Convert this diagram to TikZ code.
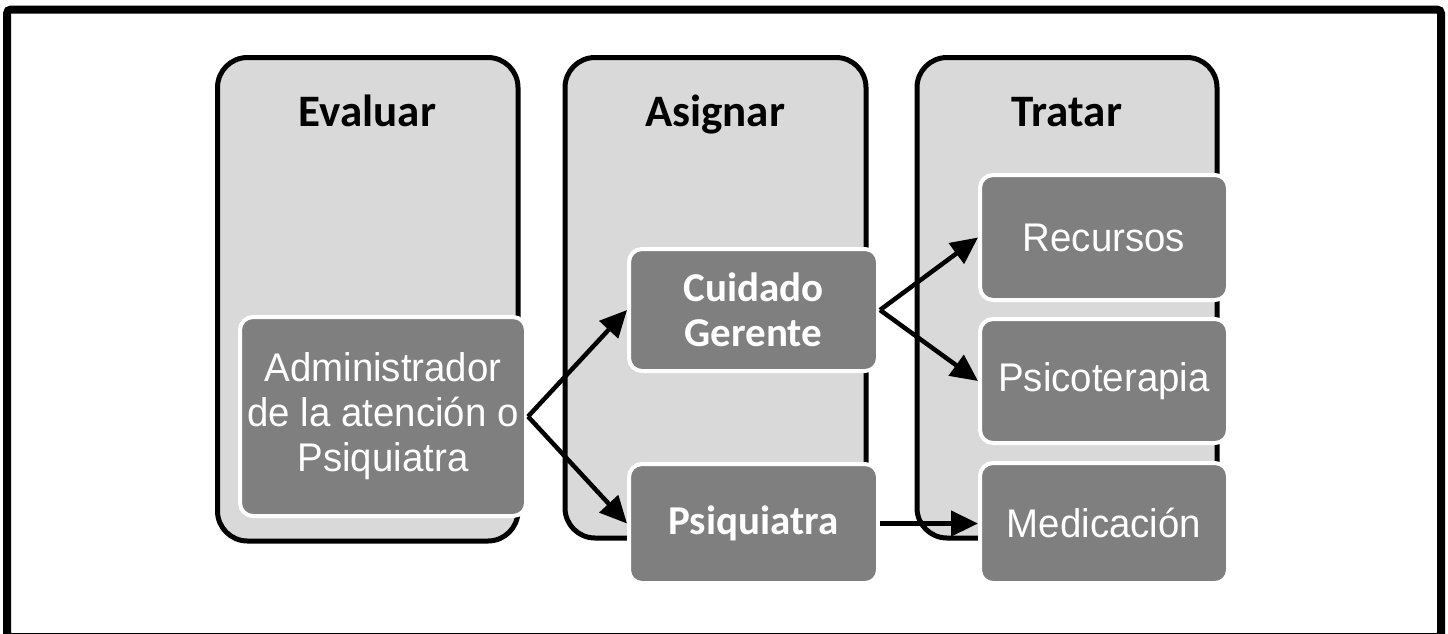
\documentclass[tikz,border=0pt]{standalone}
\usepackage{fontspec}
\setmainfont{Carlito}
\newfontfamily\narrowfont[FakeStretch=0.96]{Liberation Sans}
\usetikzlibrary{arrows.meta}
\definecolor{colfill}{HTML}{D9D9D9}
\definecolor{boxfill}{HTML}{7F7F7F}
\tikzset{
  colbox/.style={draw=black, line width=5pt, fill=colfill, rounded corners=30pt,
    inner sep=0pt, minimum width=300pt},
  title/.style={anchor=base, font=\bfseries\fontsize{45}{54}\selectfont},
  stepbox/.style={draw=white, line width=4pt, fill=boxfill, rounded corners=13pt,
    inner sep=0pt, text=white, align=center},
  narrowtxt/.style={font=\narrowfont\fontsize{40}{45}\selectfont},
  boldtxt/.style={font=\bfseries\fontsize{41}{45}\selectfont},
  flow/.style={line width=4.5pt, -{Triangle[length=27pt,width=25pt]}},
}
\begin{document}
\begin{tikzpicture}[x=1pt,y=-1pt]
\useasboundingbox (0,0) rectangle (1448,633);
\fill[white] (0,0) rectangle (1448,633);
\draw[line width=8pt, rounded corners=4pt] (7,9.5) rectangle (1441,637);
% columns
\node[colbox, minimum width=300.5pt, minimum height=483.5pt] (colE) at (367.75,299.25) {};
\node[colbox, minimum width=301pt, minimum height=480.5pt] (colA) at (715.5,297.75) {};
\node[colbox, minimum width=300pt, minimum height=480.5pt] (colT) at (1067,297.75) {};
\node[title] (tE) at (367.5,126) {Evaluar};
\node[title] (tA) at (715,126) {Asignar};
\node[title] (tT) at (1067,126) {Tratar};
% inner boxes
\node[stepbox, narrowtxt, minimum width=286pt, minimum height=199pt] (admin) at (383,416.5)
  {Administrador\\de la atención o\\Psiquiatra};
\node[stepbox, boldtxt, minimum width=249pt, minimum height=122pt] (cuid) at (753.5,310)
  {Cuidado\\Gerente};
\node[stepbox, boldtxt, minimum width=249pt, minimum height=119pt] (psiq) at (753.5,523.5)
  {Psiquiatra};
\node[stepbox, narrowtxt, minimum width=248pt, minimum height=125pt] (rec) at (1104,237.5)
  {Recursos};
\node[stepbox, narrowtxt, minimum width=248pt, minimum height=124pt] (psico) at (1104,381)
  {Psicoterapia};
\node[stepbox, narrowtxt, minimum width=248pt, minimum height=120pt] (med) at (1104,523)
  {Medicación};
% arrows
\draw[flow] (admin.east) -- (cuid.west);
\draw[flow] (admin.east) -- (psiq.west);
\draw[flow] (cuid.east) -- (rec.west);
\draw[flow] (cuid.east) -- (psico.west);
\draw[flow] (psiq.east) -- (psiq.east -| med.west);
\end{tikzpicture}
\end{document}
